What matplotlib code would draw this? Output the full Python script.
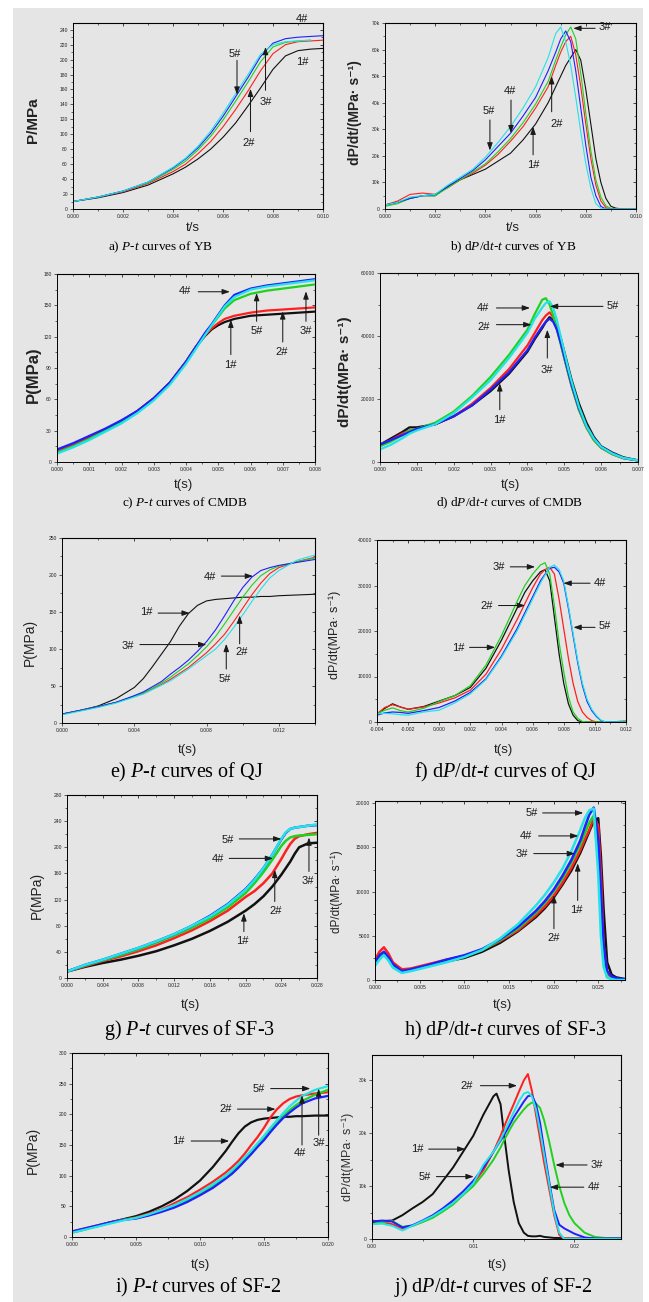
import numpy as np
import matplotlib
matplotlib.use('Agg')
import matplotlib.pyplot as plt
from matplotlib.patches import Rectangle
from matplotlib.ticker import MultipleLocator, FuncFormatter, NullFormatter

plt.rcParams['mathtext.fontset'] = 'custom'
plt.rcParams['mathtext.rm'] = 'Liberation Serif'
plt.rcParams['mathtext.it'] = 'Liberation Serif:italic'
plt.rcParams['font.family'] = ['Liberation Sans', 'DejaVu Sans']

LABELS = ['1#', '2#', '3#', '4#', '5#']

# ---------------- data ----------------
# a) P-t of YB (MPa)
YB_P_t = [0, .001, .002, .003, .004, .0045, .005, .0055, .006, .0065, .007, .0075, .008, .0085, .009, .0095, .010]
YB_P = {
    '1#': [10, 15, 22, 32, 47, 56, 67, 80, 96, 115, 138, 162, 187, 205, 212, 214, 215],
    '2#': [10, 16, 23, 34, 50, 60, 74, 90, 110, 133, 158, 185, 208, 220, 224, 225, 226],
    '3#': [10, 16, 24, 35, 53, 64, 79, 97, 119, 144, 170, 197, 217, 223, 225, 226, np.nan],
    '4#': [10, 16, 24, 36, 55, 67, 82, 101, 124, 150, 176, 204, 222, 228, 230, 231, 232],
    '5#': [10, 16, 24, 36, 56, 68, 84, 104, 128, 154, 180, 207, 220, 224, 225, 226, np.nan],
}
# b) dP/dt-t of YB (thousand MPa/s)
YB_D_t = [0, .0005, .001, .0015, .002, .0025, .003, .0035, .004, .0045, .005, .0055, .006, .0065, .0068,
          .007, .0072, .0074, .0076, .0078, .008, .0082, .0084, .0086, .0088, .009, .0092, .0095, .010]
YB_D = {
    '1#': [1.5, 2.5, 4, 5, 5, 8.5, 11, 13, 15, 18, 21, 26, 32, 40, 46, 50, 54, 57, 60, 56, 45, 32, 19, 10, 4, 1, 0.3, 0, 0],
    '2#': [1.5, 3, 5.5, 6, 5.5, 8, 11, 13.5, 16.5, 20.5, 25.5, 31, 38, 46, 54, 59, 63, 65, 58, 46, 32, 19, 9, 3, 0.5, 0, 0, 0, 0],
    '3#': [1.0, 2, 4, 5, 5, 8, 11, 14, 17, 21.5, 26.5, 32.5, 39.5, 48, 56, 61, 65.5, 68.5, 64, 51, 36, 22, 11, 4.5, 1.2, 0.2, 0, 0, 0],
    '4#': [1.5, 2.5, 4.0, 5.0, 5.5, 8.5, 11.5, 14.5, 18.5, 23.5, 28.5, 35, 42, 52, 59, 64, 67, 63, 52, 38, 24, 12, 5, 1, 0, 0, 0, 0, 0],
    '5#': [1.5, 2.5, 4.5, 5.0, 5.5, 9, 12, 15, 19.5, 25, 31, 38, 46, 57, 66, 68.5, 63, 54, 42, 29, 17, 8, 2, 0.3, 0, 0, 0, 0, 0],
}
# c) P-t of CMDB
CM_P_t = [0, .0005, .001, .0015, .002, .0025, .003, .0035, .004, .0043, .0046, .0048, .005, .0052, .0055, .006, .0065, .007, .0075, .008]
CM_P = {
    '1#': [11, 17, 24, 31, 39, 49, 61, 76, 96, 110, 121, 127, 131, 134, 137, 140, 141, 142, 143, 144],
    '2#': [11, 17, 24, 31, 39, 49, 61, 76, 96, 110, 122, 128, 133, 137, 140, 143, 145, 146, 147, 148],
    '3#': [9, 15, 22, 30, 38, 48, 60, 75, 95, 109, 123, 131, 139, 147, 155, 161, 164, 166, 168, 170],
    '4#': [12, 18, 25, 32, 40, 49, 61, 76, 96, 110, 124, 132, 141, 150, 160, 166, 169, 171, 173, 175],
    '5#': [8, 14, 21, 29, 37, 47, 59, 74, 94, 108, 122, 131, 140, 149, 158, 165, 168, 170, 172, 174],
}
# d) dP/dt-t of CMDB (thousand MPa/s)
CM_D_t = [0, .0003, .0006, .0008, .001, .0015, .002, .0025, .003, .0035, .004, .0042, .0044, .0045, .0046,
          .0047, .0048, .0049, .005, .0051, .0052, .0054, .0056, .0058, .006, .0063, .0066, .007]
CM_D = {
    '1#': [5.5, 7.5, 9.5, 11, 11, 12, 14.5, 18, 22.5, 28, 35, 39, 42.5, 44.5, 46, 45, 43, 39.5, 35, 30.5, 26, 18.5, 12.5, 8, 5, 3, 1.5, 0.5],
    '2#': [5.5, 7, 9, 10, 10.5, 12, 14.5, 18.5, 23.5, 29.5, 37, 41, 45, 46.5, 47.5, 46, 42.5, 38, 33, 28.5, 24, 16.5, 11, 7, 4.5, 2.5, 1.2, 0.5],
    '3#': [5, 6.5, 8.5, 10, 10.5, 12.5, 16, 21, 27, 34, 42, 47, 51.5, 52, 50, 46.5, 42, 37.5, 33, 28.5, 24, 16.5, 11, 7, 4.5, 2.5, 1.2, 0.5],
    '4#': [5.5, 7, 8.5, 9.5, 10.5, 12, 14.5, 18, 23, 28.5, 35.5, 39.5, 43, 44.5, 45.5, 44.5, 42, 38, 33.5, 29, 24.5, 17, 11.5, 7.5, 4.8, 2.8, 1.3, 0.5],
    '5#': [4, 5.5, 7.5, 9, 10, 12, 15.5, 20.5, 26, 33, 41, 45.5, 49, 50.5, 51, 49, 45, 40, 35, 30, 25.5, 17.5, 11.5, 7.5, 4.8, 2.7, 1.3, 0.5],
}
# e) P-t of QJ
QJ_P_t = [0, .001, .002, .003, .004, .0045, .005, .0055, .006, .0065, .007, .0075, .008, .0085, .009, .0095,
          .010, .0105, .011, .0115, .012, .013, .014]
QJ_P = {
    '1#': [12, 17, 23, 33, 48, 60, 76, 93, 110, 131, 148, 159, 165, 167, 168, 169, 170, 170, 171, 171, 172, 173, 174],
    '2#': [12, 17, 22, 28, 36, 40, 46, 52, 59, 67, 75, 85, 95, 107, 120, 137, 155, 173, 189, 202, 210, 218, 224],
    '3#': [12, 17, 22, 28, 36, 41, 47, 54, 62, 71, 80, 91, 103, 117, 134, 152, 170, 186, 199, 207, 212, 218, 223],
    '4#': [12, 17, 22, 28, 37, 42, 49, 56, 66, 75, 85, 97, 110, 126, 145, 165, 183, 197, 206, 210, 213, 217, 221],
    '5#': [11, 16, 21, 27, 35, 39, 45, 51, 57, 65, 73, 82, 91, 100, 113, 129, 146, 164, 181, 196, 206, 220, 227],
}
# f) dP/dt-t of QJ (thousand MPa/s)
QJ_D_t = [-0.004, -0.0035, -0.003, -0.0025, -0.002, -0.001, 0, 0.001, 0.002, 0.003, 0.004, 0.005, 0.0055, 0.006,
          0.0065, 0.0068, 0.0071, 0.0074, 0.0077, 0.008, 0.0083, 0.0086, 0.0089, 0.0092, 0.0095, 0.0098, 0.0101,
          0.0104, 0.0107, 0.011, 0.012]
QJ_D = {
    '1#': [1.6, 3.0, 4.0, 3.3, 2.8, 3.4, 4.6, 5.8, 7.6, 11.8, 18, 25, 28.5, 31, 33, 33.5,
           31, 23, 15, 8.5, 4, 1.5, 0.3, 0, 0, 0, 0, 0, 0, 0, 0.1],
    '2#': [1.8, 3.2, 3.8, 3.3, 2.8, 3.3, 4.2, 5.3, 7.0, 10.5, 16, 22.5, 26, 29.5, 32.5, 33.5,
           34, 32.5, 27, 20.5, 14, 8.5, 4.5, 2.2, 1, 0.3, 0, 0, 0, 0, 0.2],
    '3#': [1.8, 2.6, 3.1, 2.5, 2.2, 3.0, 4.5, 5.8, 8.0, 12.5, 19, 26.5, 30, 32.5, 34.5, 35,
           32.5, 25.5, 17.5, 11, 5.5, 2.2, 0.8, 0.1, 0, 0, 0, 0, 0, 0, 0.2],
    '4#': [1.5, 2.0, 2.2, 2.1, 1.9, 2.5, 3.2, 4.6, 6.5, 9.5, 14.5, 20.5, 24, 27.5, 31, 32.5,
           33.8, 34, 33, 30.5, 25, 19, 13, 8, 4.5, 2.5, 1.2, 0.3, 0, 0, 0],
    '5#': [1.8, 1.9, 1.8, 1.6, 1.5, 2.2, 2.6, 4.2, 6.2, 9.3, 14.2, 20, 23.5, 27, 30.5, 32.3,
           34, 34.5, 33.5, 31, 25.5, 19.5, 13.5, 8.5, 5, 2.8, 1.4, 0.4, 0, 0, 0],
}
# g) P-t of SF-3
S3_P_t = [0, .002, .004, .006, .008, .010, .012, .014, .016, .018, .020, .021, .022, .023, .024, .0245,
          .025, .0255, .026, .027, .028]
S3_P = {
    '1#': [10, 17, 23, 28, 34, 41, 50, 60, 72, 86, 103, 113, 125, 140, 158, 168, 178, 190, 200, 206, 207],
    '2#': [10, 18, 26, 33, 41, 50, 61, 73, 87, 103, 124, 133, 145, 160, 182, 194, 205, 213, 217, 220, 222],
    '3#': [10, 19, 27, 35, 44, 54, 65, 77, 91, 108, 130, 145, 162, 181, 202, 210, 215, 217, 218, 219, 220],
    '4#': [10, 20, 28, 37, 46, 56, 67, 80, 95, 113, 136, 151, 168, 189, 212, 222, 228, 230, 231, 233, 234],
    '5#': [10, 20, 28, 37, 46, 56, 67, 80, 94, 112, 135, 150, 168, 189, 213, 223, 228, 230, 231, 233, 235],
}
# h) dP/dt-t of SF-3 (thousand MPa/s)
S3_D_t = [0, .0005, .001, .0015, .002, .003, .004, .006, .008, .010, .012, .014, .016, .018, .019, .020, .021,
          .022, .023, .0235, .024, .0245, .025, .0253, .0256, .026, .0265, .027, .028]
S3_D = {
    '1#': [2.0, 2.6, 2.9, 2.4, 1.8, 1.2, 1.2, 1.6, 2.1, 2.5, 3.2, 4.2, 5.5, 7.1, 8.1, 9.3, 10.8, 12.4, 14.4, 15.6,
           16.8, 18.0, 18.3, 14, 8, 2, 0.6, 0.3, 0.1],
    '2#': [2.3, 3.2, 3.7, 3.0, 2.0, 1.2, 1.3, 1.8, 2.3, 2.7, 3.4, 4.4, 5.6, 7.3, 8.3, 9.5, 11, 12.7, 14.7, 15.9,
           17.0, 18.3, 17.5, 12, 4, 0.8, 0.3, 0.1, 0],
    '3#': [1.8, 2.6, 3.0, 2.4, 1.6, 0.9, 1.1, 1.6, 2.2, 2.7, 3.4, 4.5, 5.8, 7.6, 8.7, 10, 11.5, 13.3, 15.3, 16.6,
           17.8, 18.6, 14, 7, 2, 0.3, 0.1, 0, 0],
    '4#': [2.0, 2.8, 3.2, 2.6, 1.8, 1.0, 1.2, 1.7, 2.3, 2.8, 3.5, 4.6, 6.0, 7.8, 8.9, 10.2, 11.8, 13.6, 15.8, 17.3,
           18.7, 19.5, 16, 10, 4, 1.0, 0.4, 0.2, 0.1],
    '5#': [1.6, 2.3, 2.8, 2.2, 1.4, 0.8, 1.0, 1.5, 2.0, 2.6, 3.4, 4.7, 6.3, 8.4, 9.6, 11, 12.6, 14.6, 17.0, 18.3,
           19.2, 19.4, 12, 5, 1.5, 0.3, 0.1, 0, 0],
}
# i) P-t of SF-2
S2_P_t = [0, .001, .002, .003, .004, .005, .006, .007, .008, .009, .010, .011, .012, .0125, .013, .0135, .014,
          .0145, .015, .0155, .016, .0165, .017, .0175, .018, .019, .020]
S2_P = {
    '1#': [8, 13, 18, 24, 29, 34, 41, 50, 61, 75, 92, 114, 140, 155, 169, 180, 187, 191, 193, 194, 195, 196, 196, 197, 197, 198, 198],
    '2#': [9, 14, 19, 24, 28, 32, 38, 45, 55, 65, 77, 90, 105, 114, 124, 136, 150, 163, 178, 195, 208, 218, 225, 229, 231, 234, 236],
    '3#': [7, 12, 18, 23, 28, 31, 36, 42, 50, 59, 70, 82, 97, 106, 116, 126, 138, 150, 162, 174, 186, 197, 207, 215, 222, 232, 240],
    '4#': [9, 14, 19, 24, 28, 30, 35, 41, 48, 57, 68, 80, 95, 103, 113, 124, 135, 147, 158, 171, 183, 194, 203, 211, 218, 226, 230],
    '5#': [7, 12, 17, 22, 27, 31, 37, 44, 52, 62, 73, 86, 100, 109, 119, 130, 141, 153, 165, 178, 190, 202, 213, 222, 230, 240, 246],
}
# j) dP/dt-t of SF-2 (thousand MPa/s)
S2_D_t = [0, .001, .002, .003, .004, .005, .006, .007, .008, .009, .010, .011, .012, .0123, .0127, .013, .0135,
          .014, .0145, .015, .0154, .0158, .0162, .0166, .017, .0175, .018, .0185, .019, .0195, .020, .021,
          .022, .023, .0246]
S2_D = {
    '1#': [3.2, 3.4, 3.5, 4.5, 5.8, 7.0, 8.5, 11, 13.5, 16.5, 19.5, 23.5, 27, 27.5, 25.5, 20.5, 13, 7, 3, 1.2,
           0.6, 0.5, 0.5, 0.6, 0.4, 0.3, 0.2, 0.2, 0.1, 0.1, 0.1, 0.1, 0.1, 0.1, 0.1],
    '2#': [3.5, 3.2, 2.8, 2.0, 2.5, 3.3, 4.2, 5.5, 7.0, 8.5, 10.5, 13, 16.5, 17.8, 19.5, 21, 23.3, 25.5, 27.8, 30,
           31.2, 28, 23.5, 19, 14.5, 9.5, 4.5, 0.8, 0, 0, 0, 0, 0, 0, 0],
    '3#': [2.8, 3.2, 3.4, 2.3, 2.5, 3.2, 4.0, 5.2, 6.5, 8.3, 10, 12.3, 15, 16, 17.3, 18.5, 20.3, 22, 23.3, 24.5,
           25.3, 25.8, 25.6, 24.8, 22.5, 18.5, 14, 10, 6.8, 4.5, 3, 1.2, 0.4, 0.2, 0.1],
    '4#': [3.3, 3.5, 3.3, 2.2, 2.6, 3.5, 4.5, 5.8, 7.3, 9.0, 11, 13.5, 16.5, 17.4, 18.6, 19.5, 21.2, 23, 24.5, 26,
           27, 27.2, 25.5, 22, 17, 11, 5.5, 2.7, 2.0, 1.5, 1.0, 0.3, 0.1, 0.1, 0.1],
    '5#': [2.8, 2.9, 2.5, 1.6, 2.5, 3.4, 4.3, 5.5, 6.8, 8.5, 10.5, 14, 16.5, 17.5, 18.8, 20, 22, 24, 26, 27.5,
           27.8, 27, 24.5, 20.5, 16, 10.5, 5, 1.2, 0, 0, 0, 0, 0, 0, 0],
}

# ---------------- styling ----------------
W, H = 649, 1302
BG = '#e5e5e5'
COL = {'1#': '#111111', '2#': '#ff1f1f', '3#': '#1fd21f', '4#': '#1f1fff', '5#': '#22e3e8'}

fig = plt.figure(figsize=(W / 100, H / 100), dpi=100)
fig.patch.set_facecolor('white')
fig.patches.append(Rectangle((13 / W, 0), (643 - 13) / W, 1 - 8 / H, transform=fig.transFigure,
                             facecolor=BG, edgecolor='none', zorder=-10))


def new_ax(x0, y0, x1, y1):
    ax = fig.add_axes([x0 / W, 1 - y1 / H, (x1 - x0) / W, (y1 - y0) / H])
    ax.set_facecolor(BG)
    return ax


def ftext(x, y, s, **kw):
    kw.setdefault('ha', 'center')
    kw.setdefault('va', 'center')
    fig.text(x / W, 1 - y / H, s, **kw)


def fixed(d):
    return FuncFormatter(lambda v, p: f'{(round(v, 8) + 0.0):.{d}f}')


def kfmt():
    return FuncFormatter(lambda v, p: '0' if abs(v) < 1e-9 else f'{v / 1000:.0f}k')


def intfmt():
    return FuncFormatter(lambda v, p: f'{v:.0f}')


def style(ax, xlim, ylim, xmaj, xmin, ymaj, ymin, xf, yf):
    ax.set_xlim(*xlim)
    ax.set_ylim(*ylim)
    ax.xaxis.set_major_locator(MultipleLocator(xmaj))
    ax.xaxis.set_minor_locator(MultipleLocator(xmin))
    ax.yaxis.set_major_locator(MultipleLocator(ymaj))
    ax.yaxis.set_minor_locator(MultipleLocator(ymin))
    ax.xaxis.set_major_formatter(xf)
    ax.yaxis.set_major_formatter(yf)
    ax.tick_params(which='major', direction='out', length=2.2, width=0.5, labelsize=3.6,
                   colors='#222222', pad=1.5)
    ax.tick_params(which='minor', direction='out', length=1.2, width=0.4)
    for sp in ax.spines.values():
        sp.set_linewidth(0.7)
    top = ax.secondary_xaxis('top')
    top.xaxis.set_major_locator(MultipleLocator(xmaj))
    top.xaxis.set_minor_locator(MultipleLocator(xmin))
    top.xaxis.set_major_formatter(NullFormatter())
    top.tick_params(which='major', direction='in', length=2.2, width=0.5)
    top.tick_params(which='minor', direction='in', length=1.2, width=0.4)
    right = ax.secondary_yaxis('right')
    right.yaxis.set_major_locator(MultipleLocator(ymaj))
    right.yaxis.set_minor_locator(MultipleLocator(ymin))
    right.yaxis.set_major_formatter(NullFormatter())
    right.tick_params(which='major', direction='in', length=2.2, width=0.5)
    right.tick_params(which='minor', direction='in', length=1.2, width=0.4)


def draw(ax, t, series, lw, scale=1.0):
    for lab in LABELS:
        ax.plot(t, np.array(series[lab], dtype=float) * scale, color=COL[lab], lw=lw,
                solid_joinstyle='round')


def annotate(ax, items, scale=1.0, fs=8, color='#1a1a1a'):
    for lab, txy, tail, tip in items:
        ax.text(txy[0], txy[1] * scale, lab, fontsize=fs, color=color, ha='center', va='center',
                clip_on=False)
        if tail is not None:
            ax.annotate('', xy=(tip[0], tip[1] * scale), xytext=(tail[0], tail[1] * scale),
                        arrowprops=dict(arrowstyle='-|>,head_length=0.45,head_width=0.16', lw=0.75,
                                        color=color, shrinkA=0, shrinkB=0),
                        annotation_clip=False)


CAP_S = 9.5
CAP_L = 14.5

# a)
ax = new_ax(73, 23, 323, 209)
draw(ax, YB_P_t, YB_P, 0.8)
style(ax, (0, 0.010), (0, 249), 0.002, 0.001, 20, 10, fixed(3), intfmt())
annotate(ax, [('5#', (0.00649, 208), (0.00656, 199), (0.00656, 153)),
              ('4#', (0.00916, 255), None, None),
              ('1#', (0.00916, 197), None, None),
              ('3#', (0.0077, 143.5), (0.0077, 159), (0.0077, 217)),
              ('2#', (0.00703, 88), (0.0071, 103.5), (0.0071, 161))])
ftext(33, 120, 'P/MPa', rotation=90, fontsize=11, fontweight='bold', color='#222')
ftext(193, 228, 't/s', fontsize=9.5, color='#222')
ftext(161, 247, r'a) $P$-$t$ curves of YB', fontsize=CAP_S, family='Liberation Serif')

# b)
ax = new_ax(385, 23, 636, 209)
draw(ax, YB_D_t, YB_D, 0.8, 1000)
style(ax, (0, 0.010), (0, 70000), 0.002, 0.001, 10000, 5000, fixed(3), kfmt())
annotate(ax, [('3#', (0.00877, 68.5), (0.00837, 68), (0.0075, 68)),
              ('4#', (0.00498, 44.5), (0.00502, 41), (0.00502, 28.5)),
              ('5#', (0.00412, 37), (0.00418, 33.5), (0.00418, 22)),
              ('2#', (0.00684, 32), (0.00664, 36.6), (0.00664, 50)),
              ('1#', (0.0059, 16.6), (0.0059, 20.4), (0.0059, 31))], 1000)
ftext(355, 113, 'dP/dt/(MPa· s⁻¹)', rotation=90, fontsize=10, fontweight='bold', color='#222')
ftext(513, 228, 't/s', fontsize=9.5, color='#222')
ftext(513, 247, r'b) d$P$/d$t$-$t$ curves of YB', fontsize=CAP_S, family='Liberation Serif')

# c)
ax = new_ax(57, 274, 315, 462)
draw(ax, CM_P_t, CM_P, 1.6)
style(ax, (0, 0.008), (0, 180), 0.001, 0.0005, 30, 15, fixed(3), intfmt())
annotate(ax, [('4#', (0.00396, 163.4), (0.00438, 163), (0.00536, 163)),
              ('5#', (0.00619, 125.8), (0.00619, 134.7), (0.00619, 161.8)),
              ('3#', (0.00772, 125.8), (0.00772, 134.7), (0.00772, 163.4)),
              ('2#', (0.00697, 105), (0.007, 114.9), (0.007, 144.3)),
              ('1#', (0.00536, 93), (0.00539, 102.8), (0.00539, 136.3))])
ftext(33, 375, 'P(MPa)', rotation=90, fontsize=12, fontweight='bold', color='#222')
ftext(183, 485, 't(s)', fontsize=9.5, color='#222')
ftext(185, 503, r'c) $P$-$t$ curves of CMDB', fontsize=CAP_S, family='Liberation Serif')

# d)
ax = new_ax(380, 273, 638, 462)
draw(ax, CM_D_t, CM_D, 1.6, 1000)
style(ax, (0, 0.007), (0, 60000), 0.001, 0.0005, 20000, 10000, fixed(3), intfmt())
annotate(ax, [('4#', (0.0028, 48.9), (0.00316, 48.9), (0.00407, 48.9)),
              ('5#', (0.00632, 49.4), (0.00605, 49.4), (0.00461, 49.4)),
              ('2#', (0.0028, 43), (0.00316, 43.6), (0.00411, 43.6)),
              ('3#', (0.00452, 29.3), (0.00454, 33), (0.00454, 42)),
              ('1#', (0.00325, 13.4), (0.00325, 16.6), (0.00325, 25))], 1000)
ftext(345, 372, 'dP/dt(MPa· s⁻¹)', rotation=90, fontsize=11, fontweight='bold', color='#222')
ftext(510, 485, 't(s)', fontsize=9.5, color='#222')
ftext(510, 503, r'd) d$P$/d$t$-$t$ curves of CMDB', fontsize=CAP_S, family='Liberation Serif')

# e)
ax = new_ax(62, 538, 315, 723)
draw(ax, QJ_P_t, QJ_P, 0.8)
style(ax, (0, 0.014), (0, 250), 0.004, 0.002, 50, 25, fixed(3), intfmt())
annotate(ax, [('4#', (0.00817, 197), (0.00882, 198.5), (0.01057, 198.5)),
              ('1#', (0.00467, 150), (0.00532, 148.5), (0.00707, 148.5)),
              ('3#', (0.00366, 104.7), (0.00431, 106), (0.00799, 106)),
              ('2#', (0.00992, 95.7), (0.00983, 107), (0.00983, 145.3)),
              ('5#', (0.009, 59.6), (0.00909, 73), (0.00909, 107))])
ftext(30, 642, 'P(MPa)', rotation=90, fontsize=10, color='#222')
ftext(187, 750, 't(s)', fontsize=9.5, color='#222')
ftext(187, 772, r'e) $P$-$t$ curves of QJ', fontsize=CAP_L, family='Liberation Serif')

# f)
ax = new_ax(377, 540, 626, 722)
draw(ax, QJ_D_t, QJ_D, 0.9, 1000)
style(ax, (-0.004, 0.012), (0, 40000), 0.002, 0.001, 10000, 5000, fixed(3), intfmt())
annotate(ax, [('3#', (0.00381, 34.1), (0.00456, 34.1), (0.00616, 34.1)),
              ('4#', (0.01033, 30.5), (0.00969, 30.5), (0.00798, 30.5)),
              ('2#', (0.00306, 25.6), (0.00381, 25.6), (0.00552, 25.6)),
              ('5#', (0.01065, 21), (0.01001, 20.8), (0.00862, 20.8)),
              ('1#', (0.00124, 16.2), (0.00195, 16.4), (0.00359, 16.4))], 1000)
ftext(335, 635, 'dP/dt(MPa· s⁻¹)', rotation=90, fontsize=9, color='#222')
ftext(503, 750, 't(s)', fontsize=9.5, color='#222')
ftext(505, 772, r'f) d$P$/d$t$-$t$ curves of QJ', fontsize=CAP_L, family='Liberation Serif')

# g)
ax = new_ax(67, 795, 317, 978)
draw(ax, S3_P_t, S3_P, 1.8)
style(ax, (0, 0.028), (0, 280), 0.004, 0.002, 40, 20, fixed(3), intfmt())
annotate(ax, [('5#', (0.01806, 211), (0.01929, 212.8), (0.02401, 212.8)),
              ('4#', (0.01694, 182), (0.01817, 183), (0.02308, 183)),
              ('3#', (0.02699, 148.7), (0.0271, 163), (0.0271, 215)),
              ('2#', (0.02338, 101.8), (0.02327, 117), (0.02327, 165.5)),
              ('1#', (0.01966, 56), (0.01981, 71), (0.01981, 99))])
ftext(37, 895, 'P(MPa)', rotation=90, fontsize=10, color='#222')
ftext(190, 1005, 't(s)', fontsize=9.5, color='#222')
ftext(190, 1030, r'g) $P$-$t$ curves of SF-3', fontsize=CAP_L, family='Liberation Serif')

# h)
ax = new_ax(375, 801, 625, 980)
draw(ax, S3_D_t, S3_D, 1.8, 1000)
style(ax, (0, 0.028), (0, 20250), 0.005, 0.0025, 5000, 2500, fixed(3), intfmt())
annotate(ax, [('5#', (0.0176, 18.9), (0.01878, 18.9), (0.02333, 18.9)),
              ('4#', (0.01693, 16.3), (0.01833, 16.3), (0.02278, 16.3)),
              ('3#', (0.01648, 14.3), (0.01778, 14.3), (0.0224, 14.3)),
              ('1#', (0.02252, 7.9), (0.0227, 9), (0.0227, 13.2)),
              ('2#', (0.02, 4.7), (0.02004, 5.8), (0.02004, 9.6))], 1000)
ftext(337, 892, 'dP/dt(MPa· s⁻¹)', rotation=90, fontsize=8.5, color='#222')
ftext(502, 1005, 't(s)', fontsize=9.5, color='#222')
ftext(505, 1030, r'h) d$P$/d$t$-$t$ curves of SF-3', fontsize=CAP_L, family='Liberation Serif')

# i)
ax = new_ax(72, 1053, 328, 1237)
draw(ax, S2_P_t, S2_P, 1.6)
style(ax, (0, 0.020), (0, 300), 0.005, 0.0025, 50, 25, fixed(3), intfmt())
annotate(ax, [('5#', (0.01456, 242), (0.01552, 242), (0.01862, 242)),
              ('2#', (0.01202, 208.5), (0.01293, 208.5), (0.0159, 208.5)),
              ('1#', (0.00828, 156.5), (0.00931, 156.5), (0.01228, 156.5)),
              ('4#', (0.01784, 136.4), (0.01797, 150), (0.01797, 231)),
              ('3#', (0.01927, 152.7), (0.01927, 166), (0.01927, 242))])
ftext(33, 1150, 'P(MPa)', rotation=90, fontsize=10, color='#222')
ftext(200, 1265, 't(s)', fontsize=9.5, color='#222')
ftext(198, 1287, r'i) $P$-$t$ curves of SF-2', fontsize=CAP_L, family='Liberation Serif')

# j)
ax = new_ax(372, 1055, 621, 1239)
draw(ax, S2_D_t, S2_D, 1.4, 1000)
style(ax, (0, 0.0246), (0, 34800), 0.01, 0.005, 10000, 5000, fixed(2), kfmt())
annotate(ax, [('2#', (0.00939, 29), (0.01071, 29), (0.01433, 29)),
              ('1#', (0.00445, 17), (0.0056, 17), (0.00923, 17)),
              ('5#', (0.00517, 11.8), (0.00636, 11.8), (0.01005, 11.8)),
              ('3#', (0.02224, 14), (0.02125, 14), (0.01812, 14)),
              ('4#', (0.02191, 9.8), (0.02092, 9.8), (0.01756, 9.8))], 1000)
ftext(348, 1157, 'dP/dt(MPa· s⁻¹)', rotation=90, fontsize=9, color='#333')
ftext(497, 1265, 't(s)', fontsize=9.5, color='#222')
ftext(493, 1287, r'j) d$P$/d$t$-$t$ curves of SF-2', fontsize=CAP_L, family='Liberation Serif')

fig.savefig('out.png', dpi=100, facecolor=fig.get_facecolor())
